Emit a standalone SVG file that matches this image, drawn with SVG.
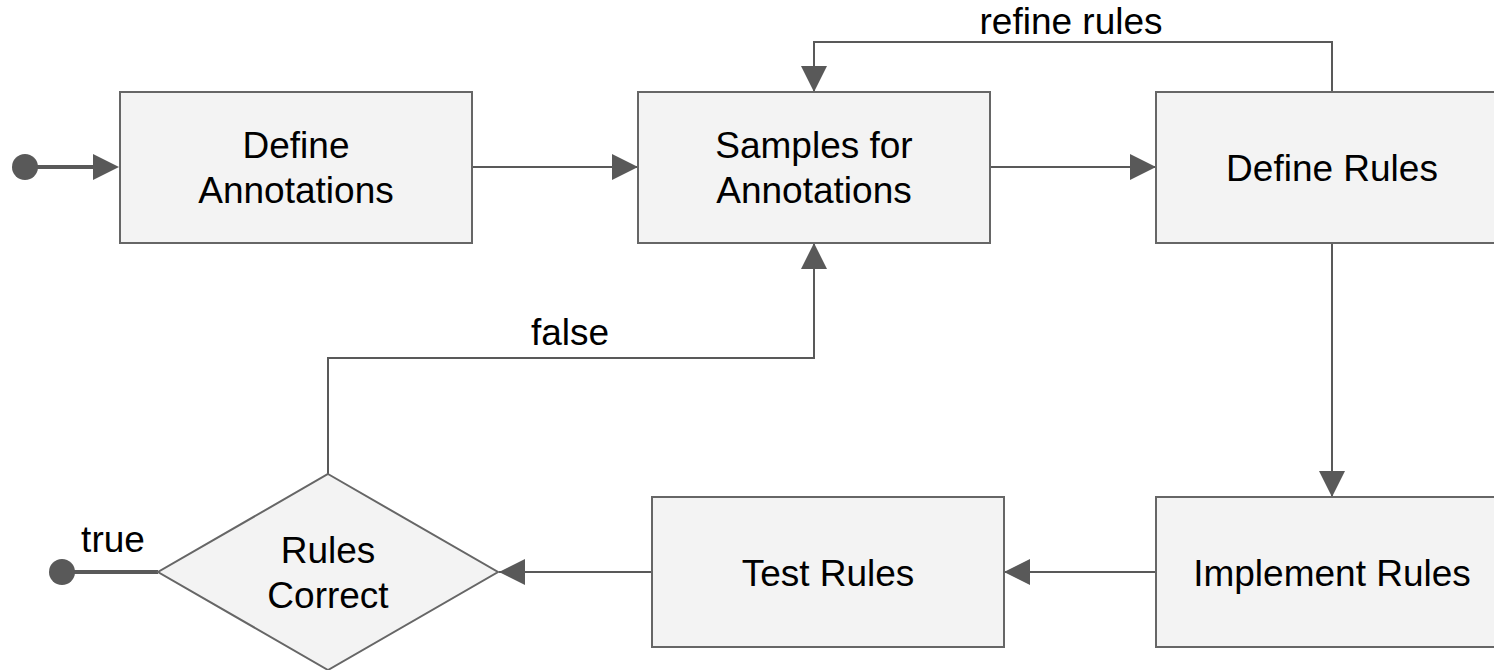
<svg xmlns="http://www.w3.org/2000/svg" width="1494" height="670" viewBox="0 0 1494 670">
<defs>
<style>
.box{fill:#f3f3f3;stroke:#666666;stroke-width:2}
.lbl{font-family:"Liberation Sans",Arial,sans-serif;font-size:37px;fill:#000;text-anchor:middle}
.conn{fill:none;stroke:#595959;stroke-width:2}
.thick{fill:none;stroke:#595959;stroke-width:4}
.dot{fill:#595959}
</style>
<marker id="arr" viewBox="0 0 26 26" refX="26" refY="13" markerWidth="26" markerHeight="26" markerUnits="userSpaceOnUse" orient="auto">
<path d="M0,0 L26,13 L0,26 Z" fill="#595959"/>
</marker>
</defs>
<rect width="1494" height="670" fill="#ffffff"/>
<g id="connectors">
<circle class="dot" cx="25" cy="167" r="13"/>
<line class="thick" x1="25" y1="167" x2="100" y2="167"/>
<path d="M119,167 L93,154 L93,180 Z" fill="#595959"/>
<line class="conn" x1="472" y1="167" x2="638" y2="167" marker-end="url(#arr)"/>
<line class="conn" x1="990" y1="167" x2="1156" y2="167" marker-end="url(#arr)"/>
<polyline class="conn" points="1332,92 1332,42 814,42 814,92" marker-end="url(#arr)"/>
<line class="conn" x1="1332" y1="242" x2="1332" y2="497" marker-end="url(#arr)"/>
<line class="conn" x1="1156" y1="572" x2="1004" y2="572" marker-end="url(#arr)"/>
<line class="conn" x1="652" y1="572" x2="499" y2="572" marker-end="url(#arr)"/>
<polyline class="conn" points="328,474 328,358 814,358 814,243" marker-end="url(#arr)"/>
<line class="thick" x1="62" y1="572" x2="158" y2="572"/>
<circle class="dot" cx="62" cy="572" r="13"/>
<text class="lbl" x="1071" y="34">refine rules</text>
<text class="lbl" x="570" y="345">false</text>
<text class="lbl" x="113" y="552">true</text>
</g>
<g id="define-annotations">
<rect class="box" x="120" y="92" width="352" height="151"/>
<text class="lbl" x="296" y="158">Define</text>
<text class="lbl" x="296" y="203">Annotations</text>
</g>
<g id="samples-for-annotations">
<rect class="box" x="638" y="92" width="352" height="151"/>
<text class="lbl" x="814" y="158">Samples for</text>
<text class="lbl" x="814" y="203">Annotations</text>
</g>
<g id="define-rules">
<rect class="box" x="1156" y="92" width="352" height="151"/>
<text class="lbl" x="1332" y="181">Define Rules</text>
</g>
<g id="implement-rules">
<rect class="box" x="1156" y="497" width="352" height="150"/>
<text class="lbl" x="1332" y="586">Implement Rules</text>
</g>
<g id="test-rules">
<rect class="box" x="652" y="497" width="352" height="150"/>
<text class="lbl" x="828" y="586">Test Rules</text>
</g>
<g id="rules-correct">
<polygon class="box" points="328,474 498,572 328,670 158,572"/>
<text class="lbl" x="328" y="563">Rules</text>
<text class="lbl" x="328" y="608">Correct</text>
</g>
</svg>
